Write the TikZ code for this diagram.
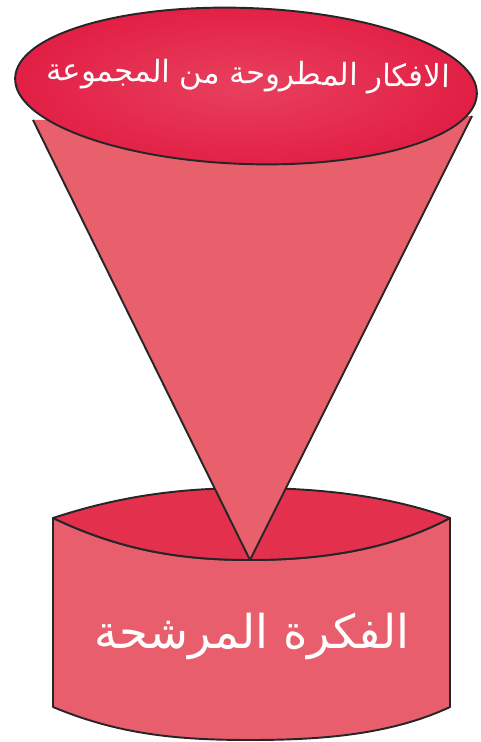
\documentclass[tikz,border=0pt]{standalone}
\usepackage{fontspec}
\newfontfamily\arabicfont[Script=Arabic]{DejaVu Sans}
\TeXXeTstate=1
\definecolor{rimred}{HTML}{E21F45}
\definecolor{rimlight}{HTML}{E8405E}
\definecolor{conepink}{HTML}{E8606C}
\definecolor{boxtop}{HTML}{E2304D}
\definecolor{boxfront}{HTML}{E85E6C}
\tikzset{
  edge/.style={draw=black!85, line width=1.1pt, line join=round},
  label/.style={text=white, font=\arabicfont},
}
\begin{document}
\begin{tikzpicture}[x=0.02cm,y=-0.02cm]
\useasboundingbox (0,0) rectangle (480,742);
% box front face
\path[edge, fill=boxfront] (53,518) -- (53,707)
  .. controls (120,735) and (180,740) .. (250,740)
  .. controls (320,740) and (390,735) .. (450,707)
  -- (450,518)
  .. controls (390,550) and (320,560) .. (250,560)
  .. controls (180,560) and (120,550) .. (53,518) -- cycle;
% box top face
\path[edge, fill=boxtop] (53,518)
  .. controls (120,496) and (180,488) .. (250,488)
  .. controls (320,488) and (390,496) .. (450,518)
  .. controls (390,550) and (320,560) .. (250,560)
  .. controls (180,560) and (120,550) .. (53,518) -- cycle;
% cone
\coordinate (tip) at (250,560);
\coordinate (cl) at (33,120);
\coordinate (cr) at (472,116);
\fill[conepink] (cl) -- (tip) -- (cr) -- cycle;
\draw[edge] (cl) -- (tip) -- (cr);
% rim ellipse
\path[edge, inner color=rimlight, outer color=rimred, rotate around={-2:(246,86)}] (246,86) ellipse [x radius=231, y radius=78];
% texts
\node[label, font=\arabicfont\fontsize{17.5}{21}\selectfont, rotate=-1] (top) at (248,76) {\beginR الافكار المطروحة من المجموعة\endR};
\node[label, font=\arabicfont\fontsize{26.5}{30}\selectfont] (bottom) at (252,636) {\beginR الفكرة المرشحة\endR};
\end{tikzpicture}
\end{document}
